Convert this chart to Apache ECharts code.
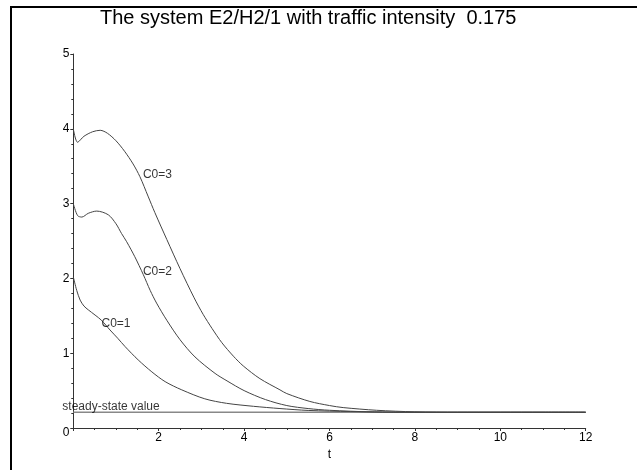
<!DOCTYPE html>
<html><head><meta charset="utf-8">
<script src="https://cdn.jsdelivr.net/npm/echarts@6/dist/echarts.min.js"></script>
<style>html,body{margin:0;padding:0;background:#fff}#c{width:637px;height:470px}</style>
</head><body><div id="c"></div>
<script>
const titleText = 'The system E2/H2/1 with traffic intensity  0.175';
const steadyValue = 0.21;
const tC3 = [0,0.1,0.25,0.45,0.63,0.8,1.0,1.2,1.4,1.56,1.75,1.91,2.19,2.5,2.83,3.04,3.25,3.48,3.75,3.98,4.37,4.84,5.0,5.54,6.0,6.32,7.1,8.0,9,10,11,12];
const vC3 = [4.0,3.82,3.9,3.96,3.98,3.94,3.84,3.7,3.53,3.36,3.10,2.88,2.52,2.13,1.74,1.52,1.33,1.14,0.96,0.83,0.66,0.51,0.46,0.355,0.3,0.273,0.237,0.216,0.21,0.21,0.21,0.21];
const tC2 = [0,0.1,0.2,0.35,0.55,0.82,1.0,1.13,1.25,1.44,1.64,1.8,1.95,2.19,2.5,2.85,3.32,3.6,4.0,4.5,5.0,5.5,6.0,7,8,9,10,11,12];
const vC2 = [3.0,2.84,2.82,2.87,2.9,2.85,2.73,2.6,2.49,2.29,2.05,1.84,1.67,1.44,1.18,0.95,0.73,0.63,0.5,0.38,0.3,0.26,0.237,0.215,0.21,0.21,0.21,0.21,0.21];
const tC1 = [0,0.08,0.16,0.25,0.35,0.51,0.66,0.86,1.04,1.21,1.52,1.84,2.15,2.54,3.08,3.59,4.22,4.84,5.5,6.5,8,9,10,11,12];
const vC1 = [2.02,1.84,1.71,1.63,1.58,1.51,1.44,1.31,1.2,1.09,0.91,0.75,0.62,0.51,0.39,0.33,0.29,0.26,0.235,0.22,0.21,0.21,0.21,0.21,0.21];
const tSteady = [0,12];
const curveLabels = ['C0=3','C0=2','C0=1'];
const labelPos = [[1.97,3.38],[1.97,2.09],[1.0,1.39]];
const steadyLabel = 'steady-state value';
const steadyLabelPos = [0,0.29];

const pairs = (t,v) => t.map((x,i)=>[x,v[i]]);
const FONT = 'Liberation Sans, Arial, sans-serif';
const curve = (t,v) => ({
  type:'line', data:pairs(t,v), showSymbol:false, smooth:0.3,
  lineStyle:{color:'#444', width:1}, z:3, silent:true
});
const textMark = (name, pos, extra) => ({
  type:'scatter', data:[pos], symbolSize:0, silent:true, z:5,
  label:Object.assign({show:true, formatter:name, color:'#000', fontFamily:FONT, fontSize:12, position:'inside'}, extra||{})
});

const chart = echarts.init(document.getElementById('c'));
chart.setOption({
  animation:false,
  title:{text:titleText, left:100, top:8, padding:0, textStyle:{fontFamily:FONT, fontSize:20, fontWeight:'normal', color:'#000'}},
  graphic:[{type:'rect', shape:{x:11, y:7, width:700, height:600}, style:{fill:'none', stroke:'#000', lineWidth:2}, z:100}],
  grid:{left:73.3, right:51.3, top:54, bottom:42},
  xAxis:{type:'value', min:0, max:12, interval:2, name:'t', nameLocation:'middle', nameGap:14,
    nameTextStyle:{fontFamily:FONT, fontSize:12, color:'#000'},
    axisLine:{lineStyle:{color:'#333', width:1}},
    axisTick:{length:3, lineStyle:{color:'#333'}},
    minorTick:{show:true, splitNumber:4, length:2, lineStyle:{color:'#333'}},
    splitLine:{show:false},
    axisLabel:{fontFamily:FONT, fontSize:12, color:'#000', margin:4, formatter:v=>v===0?'':String(v)}},
  yAxis:{type:'value', min:0, max:5, interval:1,
    axisLine:{show:true, lineStyle:{color:'#333', width:1}},
    axisTick:{show:true, length:3, lineStyle:{color:'#333'}},
    minorTick:{show:true, splitNumber:5, length:2, lineStyle:{color:'#333'}},
    splitLine:{show:false},
    axisLabel:{fontFamily:FONT, fontSize:12, color:'#000', margin:4,
      formatter:v=>v===0?'{z|0}':String(v), rich:{z:{fontFamily:FONT, fontSize:12, color:'#000', padding:[10,0,0,0]}}}},
  series:[
    curve(tC3,vC3), curve(tC2,vC2), curve(tC1,vC1),
    {type:'line', data:tSteady.map(t=>[t,steadyValue]), showSymbol:false, lineStyle:{color:'#888', width:1.5}, z:2, silent:true},
    textMark(curveLabels[0], labelPos[0]),
    textMark(curveLabels[1], labelPos[1]),
    textMark(curveLabels[2], labelPos[2]),
    textMark(steadyLabel, steadyLabelPos, {align:'left', offset:[-11,0]})
  ]
});
</script></body></html>
